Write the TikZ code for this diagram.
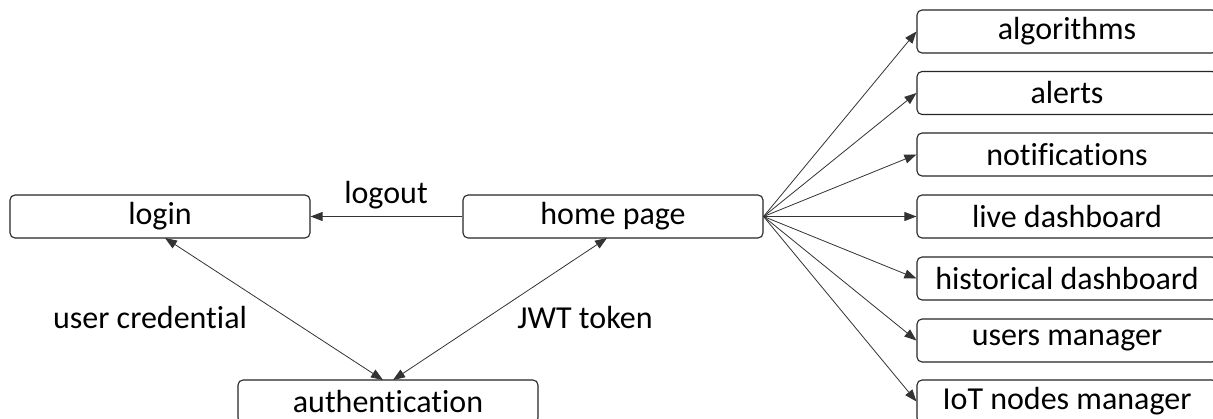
\documentclass[tikz,border=0pt]{standalone}
\usepackage{fontspec}
\setmainfont[RawFeature=-liga]{Carlito}
\usetikzlibrary{arrows.meta}
\begin{document}
\begin{tikzpicture}[x=1pt,y=-1pt,
  box/.style={draw=black!85,line width=1.1pt,rounded corners=5pt,minimum width=300pt,minimum height=43pt,inner sep=0pt,font=\fontsize{32}{36}\selectfont},
  lbl/.style={font=\fontsize{32}{36}\selectfont,inner sep=0pt},
  link/.style={draw=black!80,line width=0.8pt,-{Triangle[length=12pt,width=9pt]}},
  dlink/.style={draw=black!80,line width=0.8pt,{Triangle[length=12pt,width=9pt]}-{Triangle[length=12pt,width=9pt]}}]
\clip (0,0) rectangle (1213,419);
\fill[white] (0,0) rectangle (1213,419);

% left part
\node[box] (login) at (160,216.5) {login};
\node[box] (home) at (613,216.5) {home page};
\node[box] (auth) at (388,401.5) {authentication};

% right column
\node[box] (alg) at (1067,31.5) {algorithms};
\node[box] (alr) at (1067,93) {alerts};
\node[box] (not) at (1067,154.5) {notifications};
\node[box] (live) at (1067,216.5) {live dashboard};
\node[box] (hist) at (1067,278.5) {historical dashboard};
\node[box] (usr) at (1067,340.5) {users manager};
\node[box] (iot) at (1067,401.5) {IoT nodes manager};

% connectors
\draw[link] (home.west) -- (login.east);
\node[lbl] (lo) at (386,195) {logout};
\coordinate (lb) at (165,238);
\coordinate (hb) at (607,238);
\coordinate (a1) at (383,380);
\coordinate (a2) at (393,380);
\draw[dlink] (a1) -- (lb);
\draw[dlink] (a2) -- (hb);
\node[lbl] (uc) at (150,318) {user credential};
\node[lbl] (jwt) at (585,318) {JWT token};

\foreach \t in {alg,alr,not,live,hist,usr,iot}
  \draw[link] (home.east) -- (\t.west);
\end{tikzpicture}
\end{document}
